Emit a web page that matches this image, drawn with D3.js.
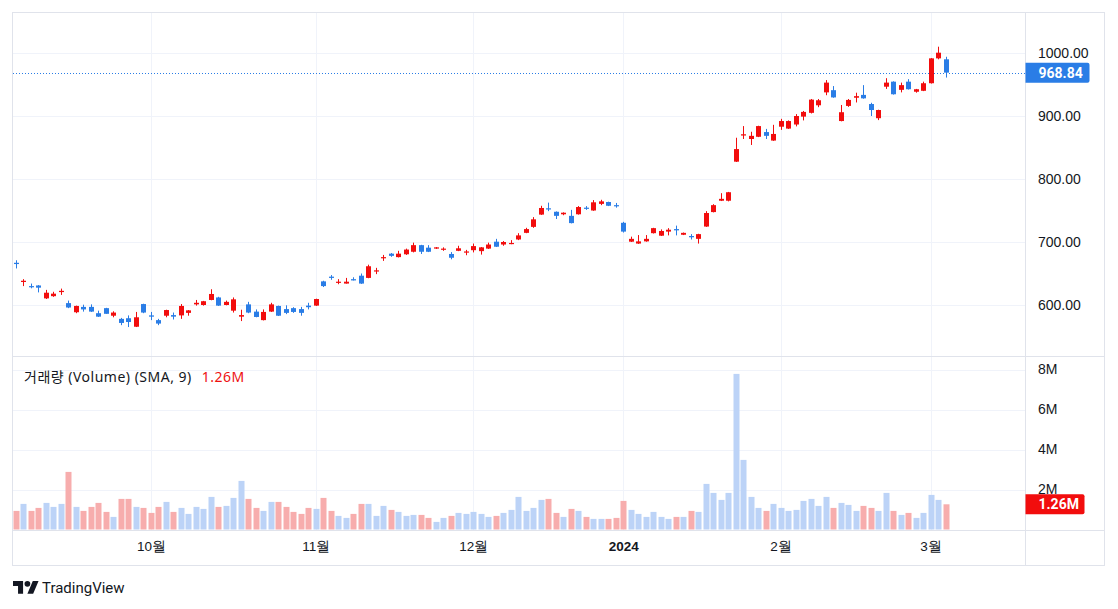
<!DOCTYPE html>
<html>
<head>
<meta charset="utf-8">
<script src="https://cdn.jsdelivr.net/npm/d3@7"></script>
<style>
	body { margin: 0; background: #fff; }
	svg { display: block; font-family: Roboto, "Noto Sans CJK KR", sans-serif; }
</style>
</head>
<body>
<svg id="chart" width="1118" height="609"></svg>
<script>
// trading days, Sep 6 2023 .. Mar 5 2024
var dates = [
	'2023-09-06','2023-09-07','2023-09-08','2023-09-11','2023-09-12','2023-09-13','2023-09-14','2023-09-15','2023-09-18','2023-09-19',
	'2023-09-20','2023-09-21','2023-09-22','2023-09-25','2023-09-26','2023-09-27','2023-09-28','2023-09-29',
	'2023-10-02','2023-10-03','2023-10-04','2023-10-05','2023-10-06','2023-10-09','2023-10-10','2023-10-11','2023-10-12','2023-10-13',
	'2023-10-16','2023-10-17','2023-10-18','2023-10-19','2023-10-20','2023-10-23','2023-10-24','2023-10-25','2023-10-26','2023-10-27',
	'2023-10-30','2023-10-31',
	'2023-11-01','2023-11-02','2023-11-03','2023-11-06','2023-11-07','2023-11-08','2023-11-09','2023-11-10','2023-11-13','2023-11-14',
	'2023-11-15','2023-11-16','2023-11-17','2023-11-20','2023-11-21','2023-11-22','2023-11-24','2023-11-27','2023-11-28','2023-11-29',
	'2023-11-30',
	'2023-12-01','2023-12-04','2023-12-05','2023-12-06','2023-12-07','2023-12-08','2023-12-11','2023-12-12','2023-12-13','2023-12-14',
	'2023-12-15','2023-12-18','2023-12-19','2023-12-20','2023-12-21','2023-12-22','2023-12-26','2023-12-27','2023-12-28','2023-12-29',
	'2024-01-02','2024-01-03','2024-01-04','2024-01-05','2024-01-08','2024-01-09','2024-01-10','2024-01-11','2024-01-12','2024-01-16',
	'2024-01-17','2024-01-18','2024-01-19','2024-01-22','2024-01-23','2024-01-24','2024-01-25','2024-01-26','2024-01-29','2024-01-30',
	'2024-01-31',
	'2024-02-01','2024-02-02','2024-02-05','2024-02-06','2024-02-07','2024-02-08','2024-02-09','2024-02-12','2024-02-13','2024-02-14',
	'2024-02-15','2024-02-16','2024-02-20','2024-02-21','2024-02-22','2024-02-23','2024-02-26','2024-02-27','2024-02-28','2024-02-29',
	'2024-03-01','2024-03-04','2024-03-05'
];

var opens = [
	667,636.5,630,631,610.5,614,620.5,603,588.5,597, 597,587,595,583,578,579,565.5,601.5,583.5,576,
	583,584,583.5,587.5,601,600,608,612,600,591, 581.5,601,589.5,576,589.5,598.5,593.5,595,593.5,599,
	599,637.5,645,635.5,634,641,646.5,643,653.5,675, 681.5,676,680.5,684.5,695,691,689.5,688,681,686,
	683.5,687,685.5,689.5,700.5,696,697,704,714.5,724, 743.5,753.5,748,744,741.5,744,754.5,750,760.5,763.5,
	758.5,730.5,700.5,697.5,701,714,710,716.5,720.5,711.5, 709.5,705,724.5,747.5,765.5,765.5,827.5,869,863.5,867,
	874.5,861,883,880,886.5,899,905,917,937.5,941, 892,916,929,933.5,919,896.5,946.5,954.5,941.5,954.5,
	938.5,940,952,991.5,990
];
var highs = [
	671,641,634,631.5,624,621,626,607,599,600.5, 601,591,595.5,590,579.5,583.5,589,602,589,578,
	592.5,588,601.5,592,608,606.5,625,613,607,612, 592.5,605,593,593,603.5,599,599.5,596.5,597,603.5,
	610,638.5,647.5,641,643,644,650,664,659,679.5, 682.5,686,689.5,699,695.5,695,692,691.5,684,694,
	687.5,697.5,692,699,705,701.5,703,714,722.5,739.5, 757.5,762.5,748.5,747,751,757,757,766.5,767,764,
	762,732,708.5,711,711,722.5,720,722,726,715, 712.5,713,749,760,777.5,779.5,865.5,884,875,884.5,
	879.5,886,895.5,893,903,908,927,927,957,947.5, 917.5,927,937,949,921,910,960,955,953,958.5,
	943,954.5,992,1010,994
];
var lows = [
	658,630,626.5,620,609.5,613,616,595,587,589.5, 589,581,586,580.5,568,565,565,587,576,568,
	580.5,577,578,583,599,599,607.5,598.5,599.5,588, 574.5,587,580.5,575.5,589,582.5,585.5,587.5,583,593,
	598.5,628.5,640,633,634,639,633.5,642.5,649,670, 676.5,675.5,679.5,683.5,681,684,689,686,672.5,685.5,
	679,683.5,680,689,692,694,696.5,703,714,722.5, 743,749,736.5,742.5,729.5,743.5,751,749.5,758.5,757,
	754.5,715,700,697,700.5,713.5,709.5,710.5,710.5,711, 704,697.5,724,747,765,764.5,827,863.5,854,866.5,
	863.5,860.5,878,879.5,883.5,893,904,914,933,929, 891.5,914.5,921.5,927.5,900,893.5,943,934,937.5,942,
	937,939.5,951.5,990,961
];
var closes = [
	665,638.5,628.5,627.5,619.5,618,622.5,596,598.5,593, 589.5,581.5,586,588,571.5,573,580.5,588,581.5,570.5,
	592,581.5,598.5,591.5,603.5,606,617.5,599,605,609, 584,588,581,589,601,583,587.5,589,587.5,596.5,
	609.5,630,643,637,637,639,634,661.5,655,676, 678,681.5,688,695,684.5,684.5,691.5,689.5,675,690,
	685,693.5,691.5,696,692.5,700,698.5,710.5,720.5,736, 754,752,741.5,746.5,730,755.5,753,763,764.5,757.5,
	757,716.5,705,701,705,722,717.5,719.5,718.5,714.5, 707.5,712.5,746,758.5,768.5,779,847.5,871,868.5,884,
	868.5,871.5,892,892,900,906.5,926,925,953,929.5, 906,925.5,931.5,928,909.5,909.5,953,934.5,949,942.5,
	942.5,952,991.5,1000.5,968.84
];
// volume, millions
var volumes = [
	0.93,1.28,0.93,1.08,1.33,1.13,1.28,2.88,1.13,0.93, 1.13,1.33,0.88,0.63,1.53,1.53,1.13,1.08,0.83,1.13,
	1.38,0.88,1.08,0.78,1.13,1.03,1.63,1.13,1.18,1.58, 2.43,1.53,1.08,0.93,1.38,1.38,1.13,0.88,0.78,1.08,
	1.03,1.58,0.93,0.68,0.58,0.78,1.28,1.28,0.68,1.18, 0.98,0.88,0.68,0.73,0.73,0.58,0.38,0.58,0.68,0.83,
	0.78,0.88,0.78,0.63,0.68,0.83,0.98,1.63,0.93,1.08, 1.48,1.53,0.83,0.63,1.03,0.93,0.63,0.53,0.53,0.53,
	0.58,1.43,0.98,0.78,0.63,0.88,0.63,0.53,0.63,0.63, 0.93,0.88,2.28,1.83,1.48,1.83,7.78,3.48,1.63,1.08,
	0.93,1.28,1.08,0.93,0.98,1.43,1.53,1.18,1.63,1.08, 1.33,1.23,0.93,1.18,1.08,0.93,1.83,0.93,0.73,0.83,
	0.58,0.83,1.73,1.48,1.26
];

var priceTicks = [600, 700, 800, 900, 1000];
var volumeTicks = [2, 4, 6, 8];
var monthLabels = ['10월', '11월', '12월', '2024', '2월', '3월'];
var lastPrice = 968.84;
var lastVolume = 1.26;

var UP = '#f20d0d', DOWN = '#2a7de6';
var VOL_UP = '#bcd3f7', VOL_DOWN = '#f7adad';
var BORDER = '#e0e3eb', GRID = '#f0f3fa', TEXT = '#131722';

var svg = d3.select('#chart');

var x = d3.scalePoint().domain(dates).range([16, 945.5]);
var y = d3.scaleLinear().domain([600, 1000]).range([305, 53]);
var yv = d3.scaleLinear().domain([0, 8]).range([529.5, 369.5]);

var bars = dates.map(function(d, i) {
	return {date: d, o: opens[i], h: highs[i], l: lows[i], c: closes[i], v: volumes[i]};
});

// first bar of every month after the first one
var monthStarts = dates.filter(function(d, i) {
	return i > 0 && d.slice(5, 7) !== dates[i - 1].slice(5, 7);
});

function px(d) { return Math.round(x(d)) + 0.5; }

// grid
svg.append('g').selectAll('line')
	.data(monthStarts)
	.enter().append('line')
	.attr('x1', px).attr('x2', px)
	.attr('y1', 13).attr('y2', 530)
	.attr('stroke', GRID);

svg.append('g').selectAll('line')
	.data(priceTicks)
	.enter().append('line')
	.attr('x1', 13).attr('x2', 1025)
	.attr('y1', function(d) { return Math.round(y(d)) + 0.5; })
	.attr('y2', function(d) { return Math.round(y(d)) + 0.5; })
	.attr('stroke', GRID);

svg.append('g').selectAll('line')
	.data(volumeTicks)
	.enter().append('line')
	.attr('x1', 13).attr('x2', 1025)
	.attr('y1', function(d) { return Math.round(yv(d)) + 0.5; })
	.attr('y2', function(d) { return Math.round(yv(d)) + 0.5; })
	.attr('stroke', GRID);

// volume bars
svg.append('g').selectAll('rect')
	.data(bars)
	.enter().append('rect')
	.attr('x', function(d) { return Math.round(x(d.date)) - 2.5; })
	.attr('width', 6)
	.attr('y', function(d) { return yv(d.v); })
	.attr('height', function(d) { return yv(0) - yv(d.v); })
	.attr('fill', function(d) { return d.c >= d.o ? VOL_UP : VOL_DOWN; });

// last price line
svg.append('line')
	.attr('x1', 13).attr('x2', 1025)
	.attr('y1', Math.round(y(lastPrice)) + 0.5)
	.attr('y2', Math.round(y(lastPrice)) + 0.5)
	.attr('stroke', DOWN)
	.attr('shape-rendering', 'crispEdges')
	.attr('stroke-dasharray', '1,2');

// candles
var candles = svg.append('g').selectAll('g')
	.data(bars)
	.enter().append('g')
	.attr('fill', function(d) { return d.c >= d.o ? UP : DOWN; })
	.attr('stroke', function(d) { return d.c >= d.o ? UP : DOWN; });

candles.append('line')
	.attr('x1', function(d) { return px(d.date); })
	.attr('x2', function(d) { return px(d.date); })
	.attr('y1', function(d) { return y(d.h); })
	.attr('y2', function(d) { return y(d.l); })
	.attr('stroke-width', 1);

candles.append('rect')
	.attr('stroke', 'none')
	.attr('x', function(d) { return Math.round(x(d.date)) - 2; })
	.attr('width', 5)
	.attr('y', function(d) { return y(Math.max(d.o, d.c)); })
	.attr('height', function(d) { return Math.max(1.2, Math.abs(y(d.o) - y(d.c))); });

// frame
var frame = svg.append('g').attr('stroke', BORDER).attr('fill', 'none');
frame.append('rect').attr('x', 12.5).attr('y', 12.5).attr('width', 1092).attr('height', 553);
frame.append('line').attr('x1', 1025.5).attr('x2', 1025.5).attr('y1', 12.5).attr('y2', 565.5);
frame.append('line').attr('x1', 12.5).attr('x2', 1104.5).attr('y1', 356.5).attr('y2', 356.5);
frame.append('line').attr('x1', 12.5).attr('x2', 1104.5).attr('y1', 530.5).attr('y2', 530.5);

// axes
function styleAxis(size) {
	return function(g) {
		g.select('.domain').remove();
		g.selectAll('text').attr('fill', TEXT).style('font-size', size);
	};
}

svg.append('g')
	.attr('transform', 'translate(1025,0)')
	.call(d3.axisRight(y).tickValues(priceTicks).tickSize(0).tickPadding(13).tickFormat(d3.format('.2f')))
	.call(styleAxis('14px'));

svg.append('g')
	.attr('transform', 'translate(1025,0)')
	.call(d3.axisRight(yv).tickValues(volumeTicks).tickSize(0).tickPadding(13).tickFormat(function(d) { return d + 'M'; }))
	.call(styleAxis('14px'));

svg.append('g')
	.attr('transform', 'translate(0,530)')
	.call(d3.axisBottom(x).tickValues(monthStarts).tickSize(0).tickPadding(11)
		.tickFormat(function(d, i) { return monthLabels[i]; }))
	.call(styleAxis('13.5px'))
	.selectAll('text')
	.style('font-weight', function(d, i) { return /^\d{4}$/.test(monthLabels[i]) ? 'bold' : null; });

// last value labels
function valueTag(yy, bg, txt, w) {
	var g = svg.append('g').attr('transform', 'translate(1025.5,' + yy + ')');
	g.append('path')
		.attr('d', 'M0,-10H' + (w - 2) + 'Q' + w + ',-10 ' + w + ',-8V8Q' + w + ',10 ' + (w - 2) + ',10H0Z')
		.attr('fill', bg);
	g.append('text')
		.attr('x', 13).attr('dy', '0.35em')
		.attr('fill', '#fff')
		.style('font-size', '14px')
		.style('font-weight', 'bold')
		.text(txt);
}
valueTag(y(lastPrice), DOWN, d3.format('.2f')(lastPrice), 64);
valueTag(yv(lastVolume), '#f20d0d', lastVolume + 'M', 59);

// volume legend
var legend = svg.append('text')
	.attr('x', 24).attr('y', 382)
	.style('font-family', '"Noto Sans", "Noto Sans CJK KR", sans-serif')
	.style('font-size', '14px')
	.style('letter-spacing', '0.5px');
legend.append('tspan').attr('fill', TEXT).text('거래량 (Volume) (SMA, 9)');
legend.append('tspan').attr('fill', '#ee1111').attr('dx', 10).text(lastVolume + 'M');

// logo
var logo = svg.append('g').attr('transform', 'translate(13,578) scale(0.72)').attr('fill', TEXT);
logo.append('path').attr('d', 'M14 22H7V11H0V4h14v18zM28 22h-8l7.5-18h8L28 22z');
logo.append('circle').attr('cx', 20).attr('cy', 8).attr('r', 4);
svg.append('text')
	.attr('x', 42).attr('y', 593)
	.attr('fill', TEXT)
	.style('font-size', '15px')
	.text('TradingView');
</script>
</body>
</html>
